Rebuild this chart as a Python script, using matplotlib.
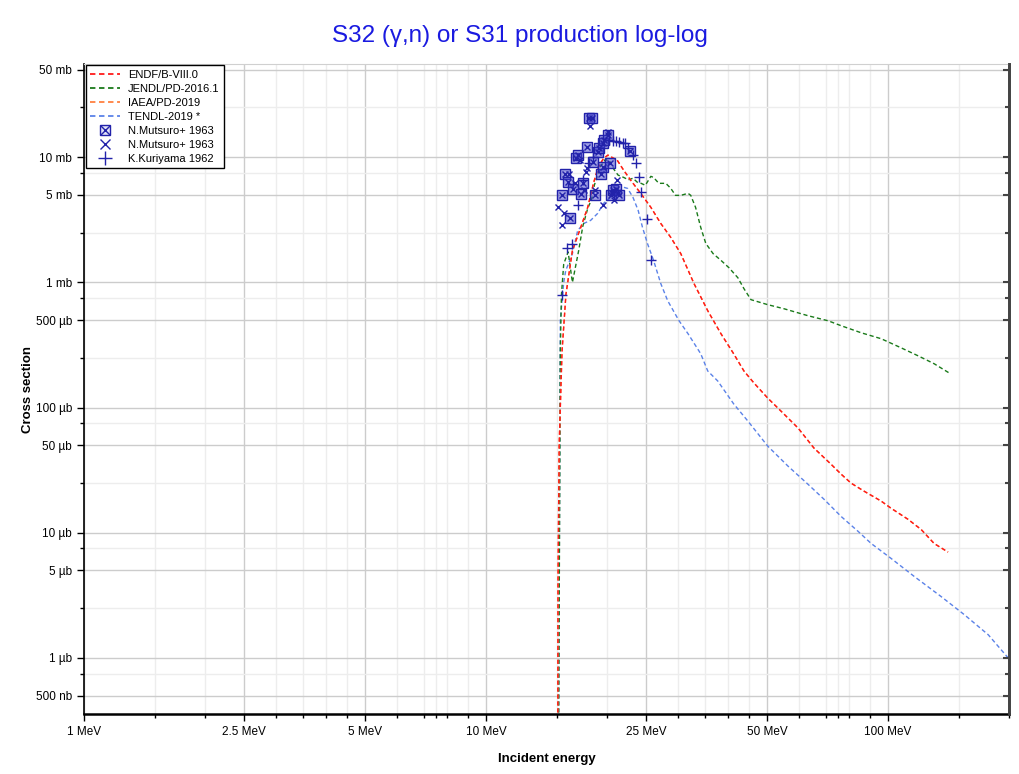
"""
S32 (γ,n) or S31 production cross section, log-log
"""
import matplotlib
matplotlib.use('Agg')
import matplotlib.pyplot as plt
from matplotlib.ticker import FixedLocator, FixedFormatter, NullFormatter
from matplotlib.legend_handler import HandlerTuple
from matplotlib.lines import Line2D

plt.rcParams['font.family'] = ['Liberation Sans', 'DejaVu Sans']

# evaluated libraries: energy (MeV), cross section (mb)
endf_e = [8.0, 15.04, 15.1, 15.2, 15.45, 15.8, 16.4, 17.2, 17.9, 18.5, 19.0, 19.6,
          20.1, 21.2, 22.0, 22.9, 24.3, 25.7, 27.2, 28.8, 30.5, 32.9, 35.6, 38.4,
          41.3, 43.8, 46.4, 50.2, 54.1, 59.7, 65.4, 72.1, 76.4, 80.9, 87.1, 96.1,
          101.7, 112.1, 120.9, 130.2, 141.0]
endf_xs = [1e-6, 1e-6, 0.004, 0.05, 0.28, 0.8, 1.8, 2.75, 3.98, 6.19, 8.3, 9.8,
           10.4, 9.46, 7.87, 6.55, 5.1, 3.98, 2.96, 2.29, 1.70, 0.98, 0.594, 0.389,
           0.269, 0.196, 0.157, 0.119, 0.094, 0.0687, 0.0475, 0.0353, 0.0294, 0.0249,
           0.0215, 0.0179, 0.0157, 0.0128, 0.0106, 0.0082, 0.0070]

# IAEA/PD-2019 sits under ENDF/B-VIII.0
iaea_e = list(endf_e)
iaea_xs = list(endf_xs)

jendl_e = [8.0, 15.04, 15.3, 15.4, 15.6, 16.0, 16.4, 17.0, 17.4, 17.9, 18.3, 18.6,
           19.2, 19.8, 20.3, 20.8, 21.3, 22.0, 22.6, 23.2, 23.8, 24.3, 24.9, 25.7,
           26.1, 26.9, 28.0, 28.8, 29.6, 30.5, 31.8, 32.3, 33.2, 34.2, 35.2, 36.7,
           38.4, 40.2, 42.3, 43.8, 45.6, 50.2, 55.1, 63.2, 70.9, 76.4, 85.7, 96.1,
           107.8, 118.8, 130.2, 141.9]
jendl_xs = [1e-6, 1e-6, 0.28, 0.8, 1.4, 1.75, 1.0, 1.8, 2.8, 3.9, 4.6, 6.0,
            8.3, 9.6, 9.3, 8.0, 7.2, 6.9, 6.6, 6.8, 6.3, 6.19, 5.97, 7.04,
            6.9, 6.19, 6.19, 5.65, 4.96, 4.96, 5.15, 4.96, 3.98, 2.75, 2.05, 1.70,
            1.50, 1.31, 1.09, 0.892, 0.728, 0.664, 0.616, 0.542, 0.494, 0.451, 0.396,
            0.355, 0.300, 0.259, 0.224, 0.189]

tendl_e = [8.0, 15.04, 15.3, 15.6, 15.78, 16.4, 16.9, 17.5, 18.2, 18.95, 19.6, 20.4,
           21.3, 22.0, 22.5, 23.2, 23.9, 24.5, 25.2, 26.1, 27.2, 28.3, 30.2, 31.8,
           34.2, 35.6, 37.7, 41.3, 44.8, 50.2, 56.4, 63.2, 69.3, 76.4, 84.2, 90.7,
           101.7, 116.1, 135.5, 154.6, 177.5, 200.0]
tendl_xs = [1e-6, 1e-6, 0.5, 1.0, 1.24, 1.70, 2.6, 2.96, 3.13, 3.56, 4.28, 4.78,
            5.24, 5.75, 5.64, 4.78, 3.76, 2.75, 2.05, 1.5, 0.98, 0.714, 0.494, 0.389,
            0.269, 0.196, 0.163, 0.107, 0.078, 0.0492, 0.034, 0.0244, 0.0185, 0.0135,
            0.01026, 0.00822, 0.00624, 0.00448, 0.00309, 0.00222, 0.00153, 0.00098]

# experimental data (EXFOR)
mut1_e = [15.42, 15.69, 15.96, 16.14, 16.42, 16.71, 16.90, 17.20, 17.39, 17.79, 18.00,
          18.3, 18.42, 18.63, 18.95, 19.06, 19.28, 19.51, 19.51, 19.62, 20.07, 20.30,
          20.42, 20.65, 21.01, 21.38, 22.77]
mut1_xs = [4.96, 7.31, 6.31, 3.30, 5.54, 9.8, 10.4, 5.05, 6.19, 12.0, 20.5,
           20.5, 9.12, 4.96, 11.0, 11.8, 7.31, 8.32, 12.9, 13.7, 15.0, 8.95,
           4.96, 5.44, 5.54, 4.96, 11.2]

mut2_e = [15.07, 15.42, 15.60, 16.05, 16.61, 17.10, 17.49, 17.69, 17.79, 18.10, 18.63,
          19.51, 20.07, 20.53, 20.77, 21.13, 21.25]
mut2_xs = [3.97, 2.90, 3.56, 7.31, 6.19, 9.46, 5.44, 7.59, 8.17, 17.7, 5.44,
           4.12, 15.9, 5.15, 4.52, 6.55, 5.15]

kur_e = [15.42, 15.87, 16.33, 16.90, 17.39, 18.00, 18.42, 20.19, 20.65, 21.01, 21.38,
         21.88, 22.13, 22.51, 23.17, 23.57, 23.98, 24.26, 25.11, 25.69]
kur_xs = [0.80, 1.90, 2.01, 4.12, 6.55, 8.95, 10.0, 13.7, 13.4, 13.4, 13.2,
          12.9, 12.9, 11.8, 10.4, 8.95, 6.92, 5.24, 3.19, 1.50]

# axis ticks
x_ticks = [1, 2.5, 5, 10, 25, 50, 100]
x_labels = ['1 MeV', '2.5 MeV', '5 MeV', '10 MeV', '25 MeV', '50 MeV', '100 MeV']
x_minor = [1.5, 2, 3, 3.5, 4, 4.5, 6, 7, 7.5, 8, 9, 15, 20, 30, 35, 40, 45,
           60, 70, 75, 80, 90, 150, 200]
y_ticks = [0.0005, 0.001, 0.005, 0.01, 0.05, 0.1, 0.5, 1, 5, 10, 50]
y_labels = ['500 nb', '1 µb', '5 µb', '10 µb', '50 µb', '100 µb', '500 µb',
            '1 mb', '5 mb', '10 mb', '50 mb']
y_minor = [0.00075, 0.0025, 0.0075, 0.025, 0.075, 0.25, 0.75, 2.5, 7.5, 25]

RED = '#ff1a1a'
GREEN = '#1a7a1a'
ORANGE = '#ff8040'
BLUE = '#5b82e8'
EXP = '#2222aa'
dash = (0, (3, 2))

fig = plt.figure(figsize=(10.2, 7.74), dpi=100)
ax = fig.add_axes([0.0824, 0.0775, 0.9069, 0.8398])
ax.set_xscale('log')
ax.set_yscale('log')

ax.plot(tendl_e, tendl_xs, color=BLUE, ls=dash, lw=1.0)
ax.plot(jendl_e, jendl_xs, color=GREEN, ls=dash, lw=1.0)
ax.plot(iaea_e, iaea_xs, color=ORANGE, ls=dash, lw=1.0)
ax.plot(endf_e, endf_xs, color=RED, ls=dash, lw=1.0)

ax.plot(mut1_e, mut1_xs, ls='', marker='s', ms=6.5, mfc=(0.25, 0.25, 0.8, 0.5),
        mec=EXP, mew=1.0)
ax.plot(mut1_e, mut1_xs, ls='', marker='x', ms=5, mec=EXP, mew=1.0)
ax.plot(mut2_e, mut2_xs, ls='', marker='x', ms=4.5, mec=EXP, mew=1.0)
ax.plot(kur_e, kur_xs, ls='', marker='+', ms=7, mec=EXP, mew=1.0)

ax.set_xlim(1, 200)
ax.set_ylim(3.56e-4, 55.6)

ax.xaxis.set_major_locator(FixedLocator(x_ticks))
ax.xaxis.set_major_formatter(FixedFormatter(x_labels))
ax.xaxis.set_minor_locator(FixedLocator(x_minor))
ax.xaxis.set_minor_formatter(NullFormatter())
ax.yaxis.set_major_locator(FixedLocator(y_ticks))
ax.yaxis.set_major_formatter(FixedFormatter(y_labels))
ax.yaxis.set_minor_locator(FixedLocator(y_minor))
ax.yaxis.set_minor_formatter(NullFormatter())

ax.set_axisbelow(True)
ax.grid(which='major', color='#cccccc', lw=1.0)
ax.grid(which='minor', color='#ededed', lw=1.0)

ax.tick_params(which='major', direction='out', length=5, width=1, labelsize=8.5)
ax.tick_params(which='minor', direction='out', length=3, width=1)

ax.spines['left'].set_linewidth(1.2)
ax.spines['bottom'].set_linewidth(1.8)
ax.spines['right'].set_color('#444444')
ax.spines['right'].set_linewidth(2)
ax.spines['top'].set_color('#d0d0d0')
ax.spines['top'].set_linewidth(0.8)

# inward ticks on the right edge
twin = ax.twinx()
twin.set_yscale('log')
twin.set_ylim(ax.get_ylim())
twin.yaxis.set_major_locator(FixedLocator(y_ticks))
twin.yaxis.set_minor_locator(FixedLocator(y_minor))
twin.yaxis.set_major_formatter(NullFormatter())
twin.yaxis.set_minor_formatter(NullFormatter())
twin.tick_params(which='major', direction='in', length=4, width=1.5, color='#444444')
twin.tick_params(which='minor', direction='in', length=3, width=1.5, color='#444444')
for side in ['left', 'top', 'bottom']:
    twin.spines[side].set_visible(False)
twin.spines['right'].set_color('#444444')
twin.spines['right'].set_linewidth(2)

ax.set_xlabel('Incident energy', fontweight='bold', fontsize=9.5, labelpad=11)
ax.set_ylabel('Cross section', fontweight='bold', fontsize=9.5, labelpad=1)
fig.text(0.51, 0.953, 'S32 (γ,n) or S31 production log-log', ha='center',
         va='center', color='#1a1ae0', fontsize=17.5)

handles = [
    Line2D([], [], color=RED, ls=dash, lw=1.3),
    Line2D([], [], color=GREEN, ls=dash, lw=1.3),
    Line2D([], [], color=ORANGE, ls=dash, lw=1.3),
    Line2D([], [], color=BLUE, ls=dash, lw=1.3),
    (Line2D([], [], ls='', marker='s', ms=7.5, mfc=(0.25, 0.25, 0.8, 0.15), mec=EXP),
     Line2D([], [], ls='', marker='x', ms=6.5, mec=EXP)),
    Line2D([], [], ls='', marker='x', ms=6.5, mec=EXP),
    Line2D([], [], ls='', marker='+', ms=10, mec=EXP),
]
labels = ['ENDF/B-VIII.0', 'JENDL/PD-2016.1', 'IAEA/PD-2019', 'TENDL-2019 *',
          'N.Mutsuro+ 1963', 'N.Mutsuro+ 1963', 'K.Kuriyama 1962']
leg = ax.legend(handles, labels, handler_map={tuple: HandlerTuple(ndivide=1)},
                loc='upper left', bbox_to_anchor=(0.002, 0.998), borderaxespad=0,
                fontsize=8, fancybox=False, edgecolor='black', framealpha=1,
                labelspacing=0.36, handlelength=2.7, handletextpad=0.7,
                borderpad=0.4)
leg.get_frame().set_linewidth(1.0)

fig.savefig('out.png', dpi=100)
